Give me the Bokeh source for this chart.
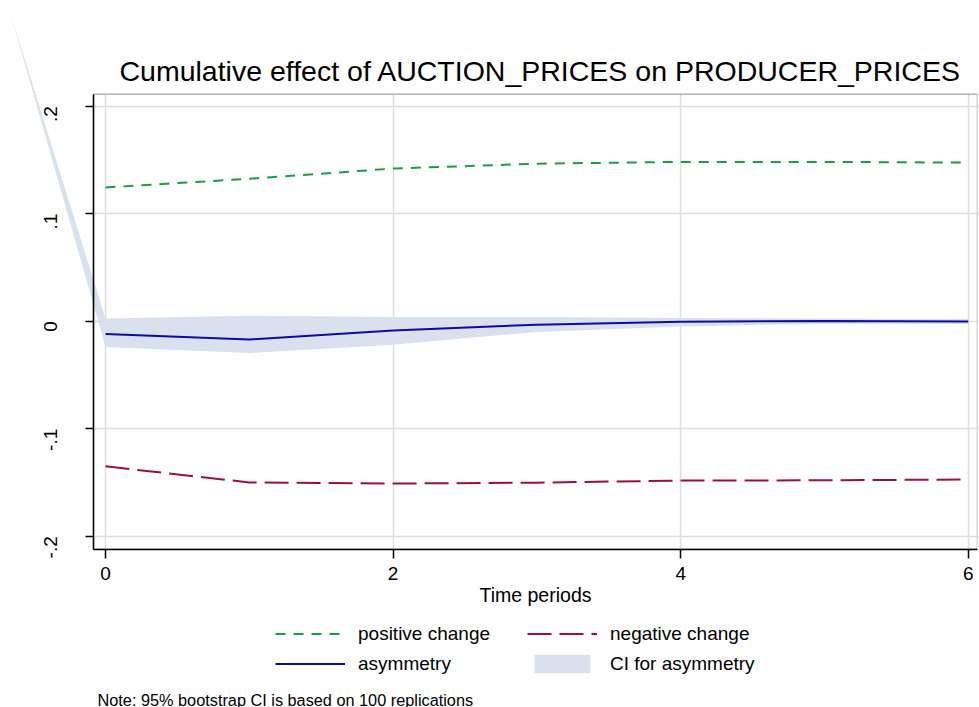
import math
from bokeh.plotting import figure
from bokeh.models import (Range1d, FixedTicker, Legend, LegendItem, PolyAnnotation,
                          BoxAnnotation, Label)
from bokeh.embed import file_html
from bokeh.resources import INLINE

# ---- data ----
periods = [0, 1, 2, 3, 4, 5, 6]
positive_change = [0.1244, 0.1325, 0.1420, 0.1465, 0.1482, 0.1482, 0.1475]
negative_change = [-0.1350, -0.1500, -0.1510, -0.1502, -0.1482, -0.1480, -0.1472]
asymmetry = [-0.0120, -0.0170, -0.0087, -0.0032, -0.0004, 0.0002, -0.0003]
ci_upper = [0.0025, 0.0050, 0.0040, 0.0040, 0.0030, 0.0025, 0.0020]
ci_lower = [-0.0240, -0.0295, -0.0220, -0.0100, -0.0050, -0.0025, -0.0025]
# stray CI segment that the original draws to the left of period 0
stray_period = -0.66
stray_value = 0.286

x_ticks = [0, 2, 4, 6]
y_ticks = [-0.2, -0.1, 0.0, 0.1, 0.2]
y_tick_labels = ["-.2", "-.1", "0", ".1", ".2"]

title_text = "Cumulative effect of AUCTION_PRICES on PRODUCER_PRICES"
x_label = "Time periods"
note_text = "Note: 95% bootstrap CI is based on 100 replications"
labels = ["positive change", "negative change", "asymmetry", "CI for asymmetry"]

# plot-region extents (data units); the drawing frame covers the whole canvas so
# that the stray CI segment can run outside the plot region, as in the original
X0, X1 = -0.0834, 6.064
Y_TOP, Y_BOTTOM = 0.2112, -0.2121
X_FRAME_LEFT = -0.7302
Y_FRAME_TOP, Y_FRAME_BOTTOM = 0.2983, -0.3593

FONT = "Liberation Sans"
GREEN = "#1c9c48"
MAROON = "#9c0f40"
NAVY = "#0c0c9e"
BAND = "#d9e1ee"
GRID = "#dedede"

p = figure(
    width=979, height=707, title=None,
    min_border_left=0, min_border_right=2, min_border_top=0, min_border_bottom=0,
    x_range=Range1d(X_FRAME_LEFT, X1), y_range=Range1d(Y_FRAME_BOTTOM, Y_FRAME_TOP),
    output_backend="svg", toolbar_location=None,
    background_fill_color="white", border_fill_color="white",
)
p.outline_line_color = None

# axes, pinned to the plot region
p.xaxis.ticker = FixedTicker(ticks=x_ticks)
p.yaxis.ticker = FixedTicker(ticks=y_ticks)
p.yaxis.major_label_overrides = {t: l for t, l in zip(y_ticks, y_tick_labels)}
for ax in (p.xaxis, p.yaxis):
    ax.axis_line_color = "black"
    ax.axis_line_width = 1.5
    ax.major_tick_line_color = "black"
    ax.major_tick_line_width = 1.5
    ax.major_tick_in = 0
    ax.minor_tick_in = 0
    ax.minor_tick_out = 0
    ax.major_label_text_font = FONT
    ax.major_label_text_font_size = "19px"
    ax.major_label_text_color = "black"
p.xaxis.fixed_location = Y_BOTTOM
p.yaxis.fixed_location = X0
p.xaxis.bounds = (X0, X1)
p.yaxis.bounds = (Y_BOTTOM, Y_TOP)
p.xaxis.major_tick_out = 9
p.yaxis.major_tick_out = 8
p.xaxis.major_label_standoff = 9
p.yaxis.major_label_standoff = 35
p.yaxis.major_label_orientation = math.pi / 2
p.xaxis.axis_label = x_label
p.xaxis.axis_label_text_font = FONT
p.xaxis.axis_label_text_font_size = "19.5px"
p.xaxis.axis_label_text_font_style = "normal"
p.xaxis.axis_label_text_color = "black"
p.xaxis.axis_label_standoff = 0

p.xgrid.grid_line_color = GRID
p.ygrid.grid_line_color = GRID
p.xgrid.grid_line_width = 1.5
p.ygrid.grid_line_width = 1.5

# blank out the grid outside the plot region
for box in (
    dict(left=X_FRAME_LEFT, right=X1, top=Y_BOTTOM, bottom=Y_FRAME_BOTTOM),
    dict(left=X_FRAME_LEFT, right=X1, top=Y_FRAME_TOP, bottom=Y_TOP),
    dict(left=X_FRAME_LEFT, right=X0, top=Y_FRAME_TOP, bottom=Y_FRAME_BOTTOM),
):
    p.add_layout(BoxAnnotation(**box, fill_color="white", fill_alpha=1.0,
                               line_color=None, level="underlay"))

# stray part of the CI band, left of period 0
stray = PolyAnnotation(
    xs=[stray_period, periods[0], periods[0]],
    ys=[stray_value, ci_upper[0], ci_lower[0]],
    fill_color=BAND, fill_alpha=1.0, line_color=None, level="underlay",
)
p.add_layout(stray)

r_ci = p.varea(x=periods, y1=ci_lower, y2=ci_upper, fill_color=BAND, fill_alpha=1.0)
r_pos = p.line(periods, positive_change, line_color=GREEN, line_width=2, line_dash="10 8")
r_neg = p.line(periods, negative_change, line_color=MAROON, line_width=2,
               line_dash="24 8")
r_asym = p.line(periods, asymmetry, line_color=NAVY, line_width=2)

# plot-region border
p.add_layout(BoxAnnotation(left=X0, right=X1, top=Y_TOP, bottom=Y_BOTTOM,
                           fill_alpha=0.0, line_color="black", line_width=1.5))

# title
p.add_layout(Label(x=540, y=637, x_units="screen", y_units="screen", text=title_text,
                   text_font=FONT, text_font_size="28.5px", text_color="black",
                   text_align="center", text_baseline="alphabetic"))

# column-major order: first column = positive / asymmetry, second = negative / CI
legend = Legend(
    items=[
        LegendItem(label=labels[0], renderers=[r_pos]),
        LegendItem(label=labels[2], renderers=[r_asym]),
        LegendItem(label=labels[1], renderers=[r_neg]),
        LegendItem(label=labels[3], renderers=[r_ci]),
    ],
    orientation="vertical", ncols=2, location=(275, 32),
    glyph_width=70, glyph_height=23, label_standoff=13, label_width=162,
    spacing=7, padding=5, margin=0,
    border_line_color=None, background_fill_alpha=0,
    label_text_font=FONT, label_text_font_size="19px", label_text_color="black",
)
p.add_layout(legend, "center")

note = Label(x=97, y=8, x_units="screen", y_units="screen", text=note_text,
             text_font=FONT, text_font_size="16.3px", text_color="black",
             text_baseline="middle", text_align="left")
p.add_layout(note)

open("out.html", "w").write(file_html(p, INLINE))
